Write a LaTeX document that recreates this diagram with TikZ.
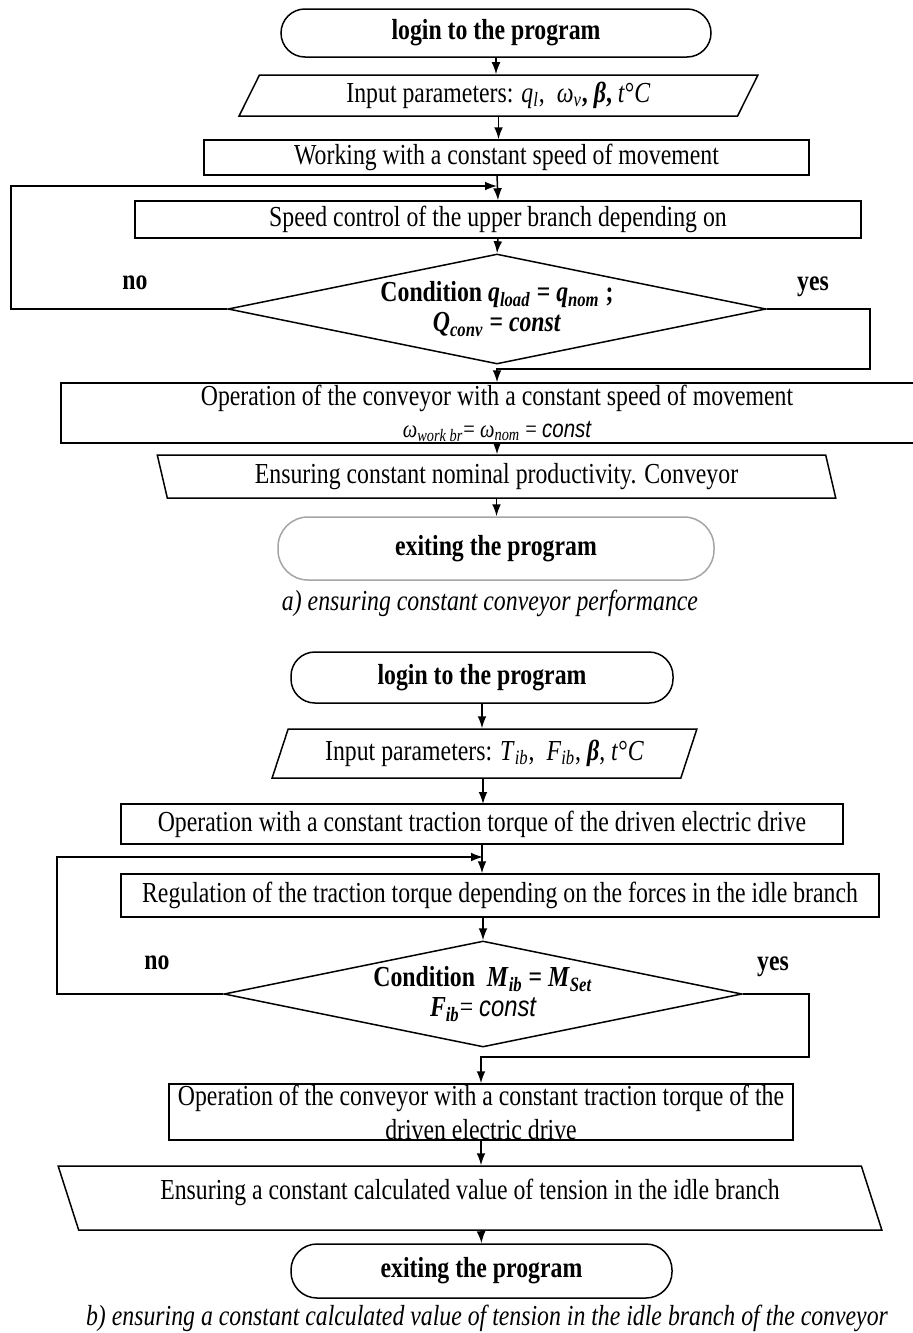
\documentclass[tikz,border=0pt]{standalone}
\usepackage{fontspec}
\setmainfont{Liberation Serif}[FakeStretch=0.82]
\newfontfamily\constfont{Liberation Sans}[FakeStretch=0.82]
\usetikzlibrary{shapes.geometric,arrows.meta}
\definecolor{termgray}{RGB}{165,165,165}
\newcommand{\cnst}{{\constfont\itshape const}}
\begin{document}
\begin{tikzpicture}[x=0.5pt,y=-0.5pt,line width=0.75pt]
    \tikzset{
        term/.style={draw, rectangle, rounded corners=12pt, align=center, inner sep=0pt},
        proc/.style={draw, rectangle, align=center, inner sep=0pt},
        io/.style={draw, trapezium, trapezium stretches=true, align=center, inner sep=0pt},
        cond/.style={draw, diamond, align=center, inner sep=0pt, shape aspect=4.9},
        arc/.style={-{Latex[length=6pt,width=4.4pt]}},
        lbl/.style={font=\bfseries}
    }
    \fontsize{14.5}{17}\selectfont
    \useasboundingbox (0,0) rectangle (912,1333);

    % a) constant conveyor performance
    \draw node[term, minimum width=215pt, minimum height=24pt] (loginA) at (496,33) {\textbf{login to the program}};
    \draw node[io, trapezium left angle=64, trapezium right angle=116, minimum width=259.5pt, minimum height=20.5pt] (inA) at (498.5,95.5)
        {Input parameters: \textit{q}\textsubscript{\textit{l}},\ \ \textit{ω}\textsubscript{\textit{v}}\textbf{, \textit{β},} \textit{t}°\textit{C}};
    \draw node[proc, minimum width=302.5pt, minimum height=17.5pt] (workA) at (506.5,157.5) {Working with a constant speed of movement};
    \draw node[proc, minimum width=363pt, minimum height=18.5pt] (speedA) at (498,219.5) {Speed control of the upper branch depending on};
    \draw node[cond, minimum width=269pt, minimum height=55pt] (diaA) at (497,309)
        {\textbf{Condition \textit{q}\textsubscript{\textit{load}} = \textit{q}\textsubscript{\textit{nom}} ;}\\[-2pt]
         \textbf{\textit{Q}\textsubscript{\textit{conv}} = \textit{const}}};
    \draw node[proc, minimum width=436pt, minimum height=30pt] (opA) at (497,413)
        {Operation of the conveyor with a constant speed of movement\\[-1pt]
         {\fontsize{12.5}{14}\selectfont\textit{ω}\textsubscript{\textit{work br}}= \textit{ω}\textsubscript{\textit{nom}} = \cnst}};
    \draw node[io, trapezium left angle=105.6, trapezium right angle=74.4, minimum width=339.5pt, minimum height=21.5pt] (outA) at (496.5,476.5)
        {Ensuring constant nominal productivity. Conveyor};
    \draw node[term, draw=termgray, rounded corners=15pt, minimum width=218pt, minimum height=31.5pt] (exitA) at (496,548.5) {\textbf{exiting the program}};
    \node (capA) at (490,603) {\textit{a) ensuring constant conveyor performance}};

    \draw[arc] (loginA.south) -- (loginA.south |- inA.north);
    \draw[arc] (inA.south) -- (inA.south |- workA.north);
    \draw[arc] (497,175) -- (speedA.north);
    \draw[arc] (speedA.south) -- (diaA.north);
    \draw[arc] (opA.south) -- (opA.south |- outA.north);
    \draw[arc] (outA.south) -- (outA.south |- exitA.north);

    \coordinate (noA) at (11,309);
    \coordinate (joinA) at (497,186);
    \coordinate (yesA) at (870,369);
    \draw[arc] (diaA.west) -- (noA) |- (joinA);
    \draw[arc] (diaA.east) -| (yesA) -| (opA.north);
    \node[lbl] (noAl) at (135,283) {no};
    \node[lbl] (yesAl) at (813,287) {yes};

    % b) constant tension in the idle branch
    \draw node[term, minimum width=191pt, minimum height=25.5pt] (loginB) at (482,677.5) {\textbf{login to the program}};
    \draw node[io, trapezium left angle=63.9, trapezium right angle=116.1, minimum width=212.5pt, minimum height=24.5pt] (inB) at (484.5,753.5)
        {Input parameters: \textit{T}\textsubscript{\textit{ib}},\ \ \textit{F}\textsubscript{\textit{ib}}, \textbf{\textit{β}}, \textit{t}°\textit{C}};
    \draw node[proc, minimum width=361pt, minimum height=20pt] (workB) at (482,824) {Operation with a constant traction torque of the driven electric drive};
    \draw node[proc, minimum width=379pt, minimum height=21.5pt] (regB) at (500,895.5) {Regulation of the traction torque depending on the forces in the idle branch};
    \draw node[cond, minimum width=259pt, minimum height=53pt] (diaB) at (483,994)
        {\textbf{Condition\ \ \textit{M}\textsubscript{\textit{ib}} = \textit{M}\textsubscript{\textit{Set}}}\\[-2pt]
         \textbf{\textit{F}\textsubscript{\textit{ib}}}= \cnst};
    \draw node[proc, minimum width=312pt, minimum height=28pt] (opB) at (481,1112)
        {Operation of the conveyor with a constant traction torque of the\\ driven electric drive};
    \draw node[io, trapezium left angle=112.9, trapezium right angle=67.1, minimum width=412pt, minimum height=32pt] (outB) at (470,1198)
        {\raisebox{9pt}{Ensuring a constant calculated value of tension in the idle branch}};
    \draw node[term, rounded corners=13pt, minimum width=190.5pt, minimum height=27pt] (exitB) at (481.5,1271) {\textbf{exiting the program}};
    \node (capB) at (487,1318) {\textit{b) ensuring a constant calculated value of tension in the idle branch of the conveyor}};

    \draw[arc] (loginB.south) -- (loginB.south |- inB.north);
    \draw[arc] (483,778) -- (483,804);
    \draw[arc] (workB.south) -- (workB.south |- regB.north);
    \draw[arc] (483,917) -- (diaB.north);
    \draw[arc] (opB.south) -- (opB.south |- outB.north);
    \draw[arc] (481,1230) -- (exitB.north);

    \coordinate (noB) at (57,994);
    \coordinate (joinB) at (483,857);
    \coordinate (yesB) at (809,1057);
    \draw[arc] (diaB.west) -- (noB) |- (joinB);
    \draw[arc] (diaB.east) -| (yesB) -| (opB.north);
    \node[lbl] (noBl) at (157,963) {no};
    \node[lbl] (yesBl) at (773,967) {yes};
\end{tikzpicture}
\end{document}
